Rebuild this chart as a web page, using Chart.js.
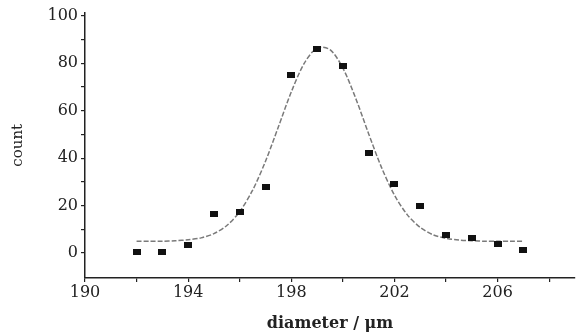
<!DOCTYPE html>
<html lang="en">
<head>
<meta charset="UTF-8">
<title>Diameter distribution</title>
<script src="https://cdn.jsdelivr.net/npm/chart.js"></script>
<style>
  body { margin: 0; background: #fff; }
</style>
</head>
<body>
<canvas id="sizeChart" width="580" height="335"></canvas>
<script>
// measured points
var diameters = [192, 193, 194, 195, 196, 197, 198, 199, 200, 201, 202, 203, 204, 205, 206, 207];
var counts = [0.5, 0.5, 3.5, 16.5, 17.5, 28, 75, 86, 79, 42, 29, 20, 7.5, 6.5, 4, 1.5];

// fitted curve
var fitX = [192, 192.5, 193, 193.5, 194, 194.5, 195, 195.5, 196, 196.5, 197, 197.5, 198, 198.5, 199,
            199.5, 200, 200.5, 201, 201.5, 202, 202.5, 203, 203.5, 204, 204.5, 205, 205.5, 206, 206.5, 207];
var fitY = [5, 5, 5, 5.2, 5.6, 6.4, 8.2, 11.6, 17.5, 26.5, 38.7, 53.2, 67.9, 79.9, 86.4,
            85.7, 77.9, 65.1, 50.2, 36, 24.4, 16.1, 10.8, 7.7, 6.2, 5.5, 5.2, 5, 5, 5, 5];

var xTickLabels = [190, 194, 198, 202, 206];
var yTickLabels = [0, 20, 40, 60, 80, 100];

var fitPoints = fitX.map(function (x, i) { return { x: x, y: fitY[i] }; });
var dataPoints = diameters.map(function (x, i) { return { x: x, y: counts[i] }; });

// small filled rectangle used as the marker
var marker = document.createElement('canvas');
marker.width = 8;
marker.height = 6;
var mctx = marker.getContext('2d');
mctx.fillStyle = '#111';
mctx.fillRect(0, 0, 8, 6);

var ink = '#222';
var tickFont = { family: 'DejaVu Serif', size: 16 };

var ctx = document.getElementById('sizeChart').getContext('2d');
var sizeChart = new Chart(ctx, {
    type: 'scatter',
    data: {
        datasets: [{
            label: 'count',
            data: dataPoints,
            pointStyle: marker,
            pointRadius: 4,
            order: 0
        }, {
            label: 'fit',
            data: fitPoints,
            showLine: true,
            borderColor: '#7a7a7a',
            borderWidth: 1.5,
            borderDash: [5, 2],
            tension: 0.3,
            pointRadius: 0,
            order: 1
        }]
    },
    options: {
        responsive: false,
        animation: false,
        layout: { padding: { top: 12, right: 0, left: 0, bottom: 0 } },
        plugins: {
            legend: { display: false },
            tooltip: { enabled: false }
        },
        scales: {
            x: {
                type: 'linear',
                min: 190,
                max: 209,
                afterBuildTicks: function (scale) {
                    var t = [];
                    for (var v = 190; v <= 208; v += 2) t.push({ value: v });
                    scale.ticks = t;
                },
                afterFit: function (scale) { scale.height = 57; },
                ticks: {
                    color: ink,
                    font: tickFont,
                    padding: 1,
                    maxRotation: 0,
                    autoSkip: false,
                    callback: function (v) { return xTickLabels.indexOf(v) >= 0 ? String(v) : ''; }
                },
                grid: { drawOnChartArea: false, drawTicks: true, tickLength: 4, color: ink, lineWidth: 1.2 },
                border: { color: ink, width: 1.5 },
                title: {
                    display: true,
                    text: 'diameter / μm',
                    color: ink,
                    font: { family: 'DejaVu Serif', size: 16, weight: 'bold' },
                    padding: { top: 2, bottom: 2 }
                }
            },
            y: {
                min: -10.5,
                max: 101.3,
                afterBuildTicks: function (scale) {
                    var t = [];
                    for (var v = 0; v <= 100; v += 10) t.push({ value: v });
                    scale.ticks = t;
                },
                afterFit: function (scale) { scale.width = 85; },
                ticks: {
                    color: ink,
                    font: tickFont,
                    padding: 3,
                    autoSkip: false,
                    callback: function (v) { return yTickLabels.indexOf(v) >= 0 ? String(v) : ''; }
                },
                grid: { drawOnChartArea: false, drawTicks: true, tickLength: 4, color: ink, lineWidth: 1.2 },
                border: { color: ink, width: 1.5 },
                title: {
                    display: true,
                    text: 'count',
                    color: ink,
                    font: { family: 'DejaVu Serif', size: 15 },
                    padding: { top: 9, bottom: 9 }
                }
            }
        }
    }
});
</script>
</body>
</html>
